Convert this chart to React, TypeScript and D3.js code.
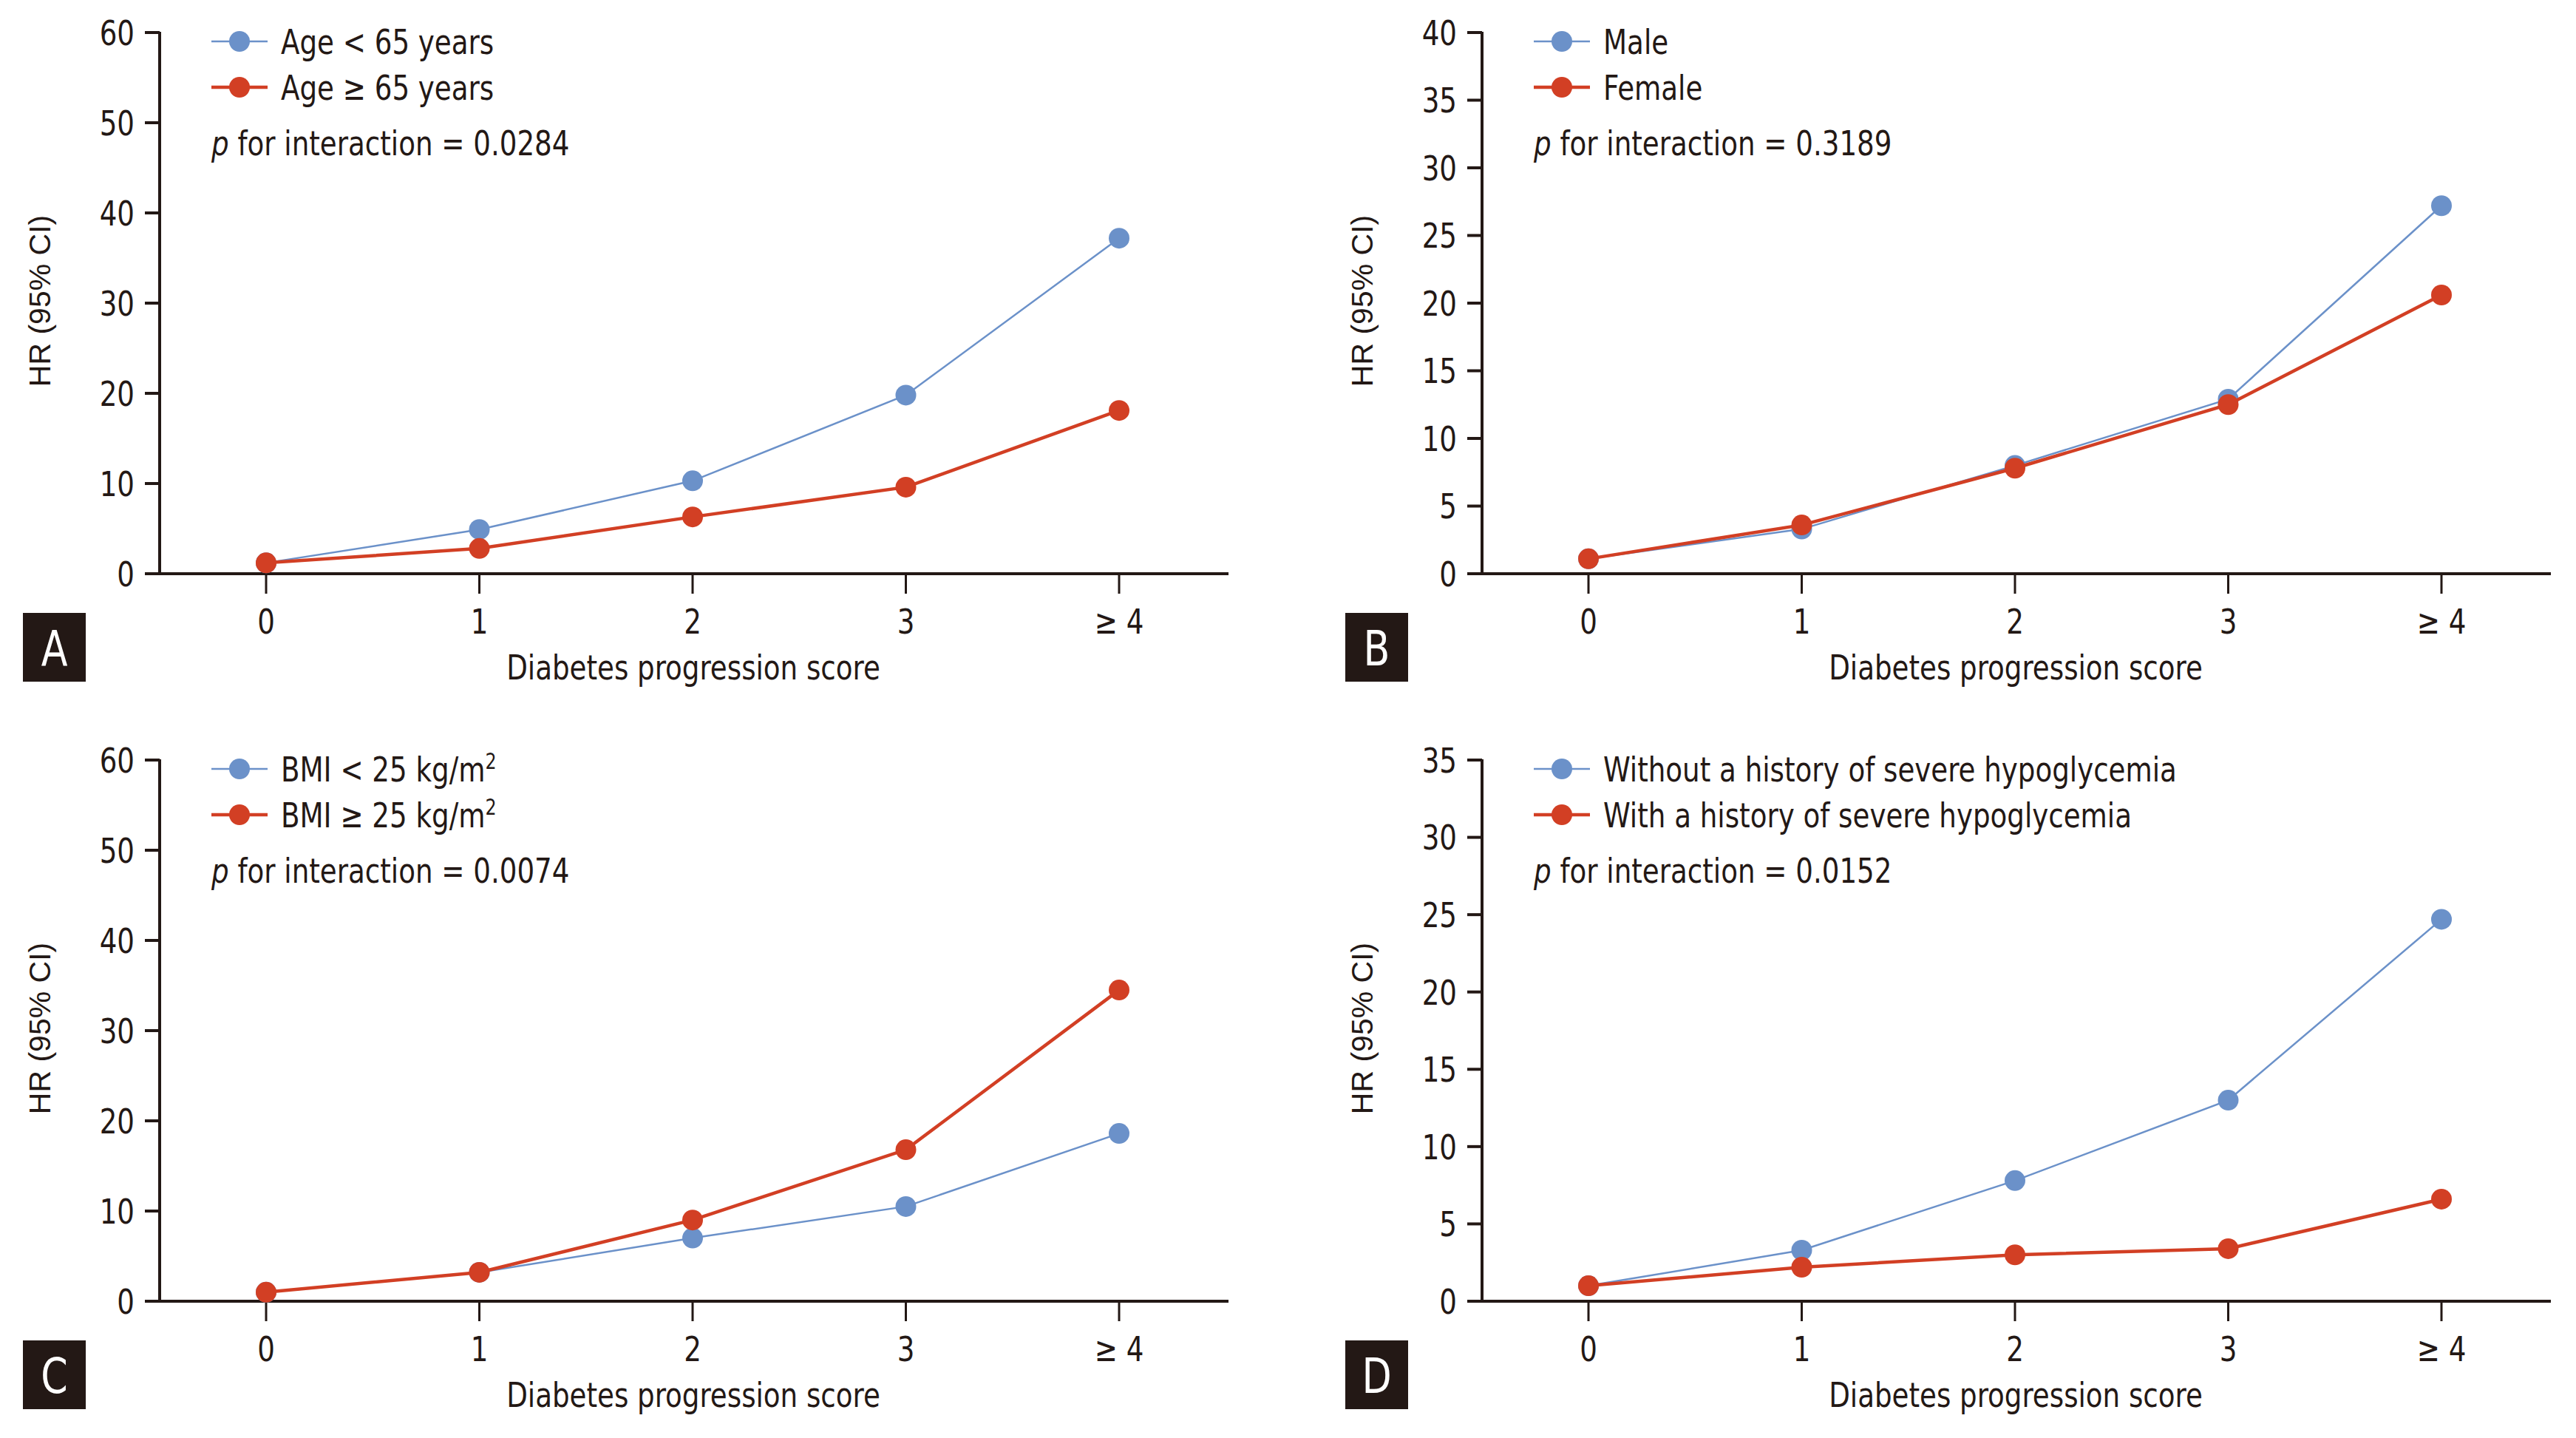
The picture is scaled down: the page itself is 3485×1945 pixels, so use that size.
import React, { useEffect } from "react";
import * as d3 from "d3";

const categories = ["0", "1", "2", "3", "≥ 4"];

const ageUnder65 = [1.2, 4.9, 10.3, 19.8, 37.2];
const ageOver65 = [1.2, 2.8, 6.3, 9.6, 18.1];

const male = [1.1, 3.3, 8.0, 12.9, 27.2];
const female = [1.1, 3.6, 7.8, 12.5, 20.6];

const bmiUnder25 = [1.0, 3.2, 7.0, 10.5, 18.6];
const bmiOver25 = [1.0, 3.2, 9.0, 16.8, 34.5];

const withoutHypo = [1.0, 3.3, 7.8, 13.0, 24.7];
const withHypo = [1.0, 2.2, 3.0, 3.4, 6.6];

const ticksA = [0, 10, 20, 30, 40, 50, 60];
const ticksB = [0, 5, 10, 15, 20, 25, 30, 35, 40];
const ticksC = [0, 10, 20, 30, 40, 50, 60];
const ticksD = [0, 5, 10, 15, 20, 25, 30, 35];

const pA = "0.0284";
const pB = "0.3189";
const pC = "0.0074";
const pD = "0.0152";

const BLUE = "#6b91c9";
const RED = "#d23f24";
const INK = "#231815";
const FONT = "'Liberation Sans Narrow', 'DejaVu Sans Condensed', 'Roboto', sans-serif";
const LABEL_FONT = "'Liberation Sans', Arial, sans-serif";
const SX = 0.88;
const FS = 47;

type TProps = {
  x: number;
  y: number;
  anchor?: "start" | "middle" | "end";
  size?: number;
  fill?: string;
  children: React.ReactNode;
};

function T({ x, y, anchor = "start", size = FS, fill = INK, children }: TProps) {
  return (
    <g transform={`translate(${x},${y}) scale(${SX},1)`}>
      <text x={0} y={0} dy="0.36em" textAnchor={anchor} fontFamily={FONT} fontSize={size} fill={fill}>
        {children}
      </text>
    </g>
  );
}

type PanelProps = {
  ox: number;
  oy: number;
  letter: string;
  ticks: number[];
  blue: number[];
  red: number[];
  blueLabel: React.ReactNode;
  redLabel: React.ReactNode;
  p: string;
};

function Panel({ ox, oy, letter, ticks, blue, red, blueLabel, redLabel, p }: PanelProps) {
  const axisX = ox + 216;
  const axisEnd = ox + 1662;
  const y0 = oy + 776;
  const yTop = oy + 44;
  const x = d3.scalePoint<string>().domain(categories).range([ox + 360, ox + 1514]);
  const y = d3.scaleLinear().domain([0, ticks[ticks.length - 1]]).range([y0, yTop]);
  const line = d3
    .line<number>()
    .x((_, i) => x(categories[i]) as number)
    .y((d) => y(d));
  const legX = axisX + 70;
  const legRows = [oy + 56, oy + 118];
  const series = [
    { vals: blue, color: BLUE, w: 2.5, label: blueLabel },
    { vals: red, color: RED, w: 4.5, label: redLabel },
  ];
  return (
    <g>
      <line x1={axisX} x2={axisX} y1={yTop - 1} y2={y0 + 2} stroke={INK} strokeWidth={4} />
      {ticks.map((t) => (
        <g key={t}>
          <line x1={axisX - 20} x2={axisX} y1={y(t)} y2={y(t)} stroke={INK} strokeWidth={4} />
          <T x={axisX - 34} y={y(t)} anchor="end">
            {t}
          </T>
        </g>
      ))}
      <line x1={axisX - 2} x2={axisEnd} y1={y0} y2={y0} stroke={INK} strokeWidth={4} />
      {categories.map((c) => (
        <g key={c}>
          <line x1={x(c)} x2={x(c)} y1={y0} y2={y0 + 27} stroke={INK} strokeWidth={3} />
          <T x={x(c) as number} y={oy + 840} anchor="middle">
            {c}
          </T>
        </g>
      ))}
      <T x={ox + 938} y={oy + 902} anchor="middle">
        Diabetes progression score
      </T>
      <text
        transform={`translate(${ox + 53},${oy + 407}) rotate(-90)`}
        dy="0.36em"
        textAnchor="middle"
        fontFamily={LABEL_FONT}
        fontSize={41}
        fill={INK}
      >
        HR (95% CI)
      </text>
      <rect x={ox + 31} y={oy + 829} width={85} height={93} fill={INK} />
      <T x={ox + 73.5} y={oy + 876} anchor="middle" size={66} fill="#ffffff">
        {letter}
      </T>
      {series.map((s, k) => (
        <g key={k}>
          <path d={line(s.vals) || ""} fill="none" stroke={s.color} strokeWidth={s.w} />
          {s.vals.map((v, i) => (
            <circle key={i} cx={x(categories[i])} cy={y(v)} r={14} fill={s.color} />
          ))}
        </g>
      ))}
      {series.map((s, k) => (
        <g key={k}>
          <line
            x1={legX}
            x2={legX + 76}
            y1={legRows[k]}
            y2={legRows[k]}
            stroke={s.color}
            strokeWidth={s.w}
          />
          <circle cx={legX + 38} cy={legRows[k]} r={14} fill={s.color} />
          <T x={legX + 94} y={legRows[k]}>
            {s.label}
          </T>
        </g>
      ))}
      <T x={legX} y={oy + 193}>
        <tspan fontStyle="italic">p</tspan>
        {` for interaction = ${p}`}
      </T>
    </g>
  );
}

export default function App() {
  useEffect(() => {
    document.body.style.margin = "0";
  }, []);
  const sup = (base: string) => (
    <>
      {base}
      <tspan fontSize={30} dy={-17}>
        2
      </tspan>
    </>
  );
  return (
    <svg width={3485} height={1945} viewBox="0 0 3485 1945" style={{ display: "block", background: "#fff" }}>
      <rect width={3485} height={1945} fill="#fff" />
      <Panel
        ox={0}
        oy={0}
        letter="A"
        ticks={ticksA}
        blue={ageUnder65}
        red={ageOver65}
        blueLabel="Age < 65 years"
        redLabel="Age ≥ 65 years"
        p={pA}
      />
      <Panel
        ox={1789}
        oy={0}
        letter="B"
        ticks={ticksB}
        blue={male}
        red={female}
        blueLabel="Male"
        redLabel="Female"
        p={pB}
      />
      <Panel
        ox={0}
        oy={984}
        letter="C"
        ticks={ticksC}
        blue={bmiUnder25}
        red={bmiOver25}
        blueLabel={sup("BMI < 25 kg/m")}
        redLabel={sup("BMI ≥ 25 kg/m")}
        p={pC}
      />
      <Panel
        ox={1789}
        oy={984}
        letter="D"
        ticks={ticksD}
        blue={withoutHypo}
        red={withHypo}
        blueLabel="Without a history of severe hypoglycemia"
        redLabel="With a history of severe hypoglycemia"
        p={pD}
      />
    </svg>
  );
}
